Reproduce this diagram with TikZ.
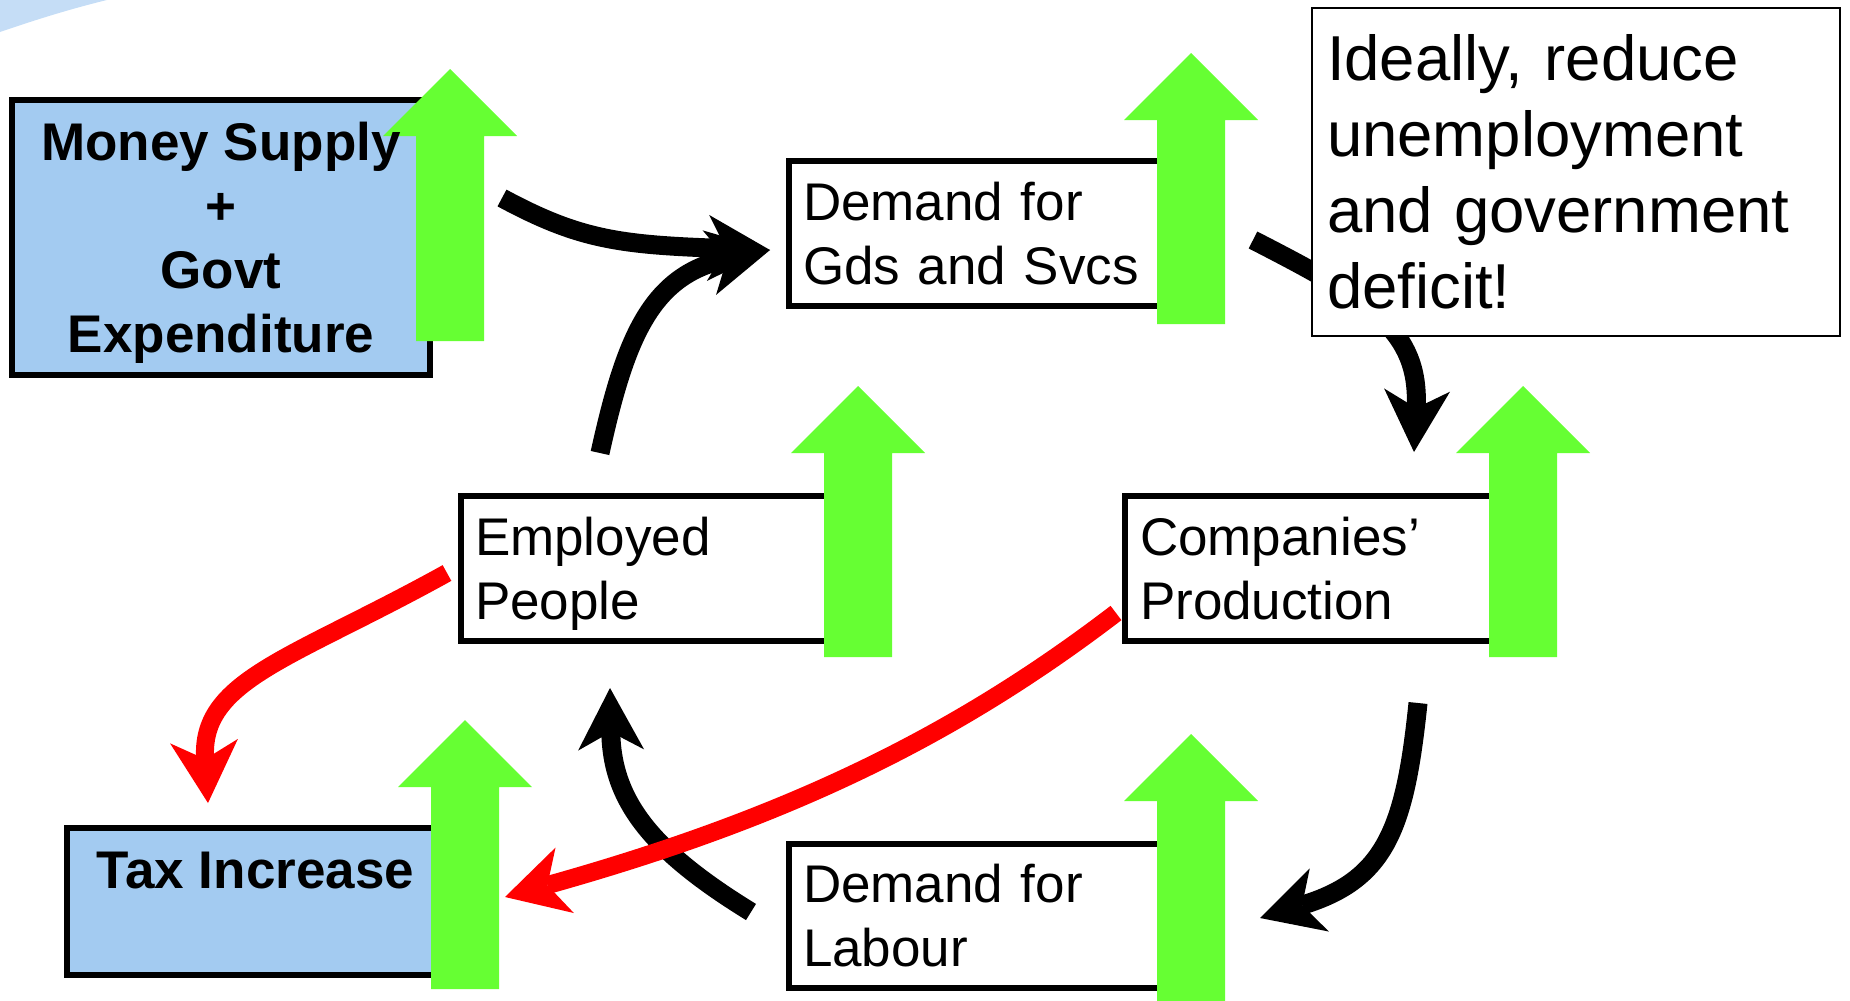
\documentclass[tikz,border=0pt]{standalone}
\usepackage{fontspec}
\setmainfont{Liberation Sans}
\usetikzlibrary{arrows.meta}
\definecolor{boxblue}{HTML}{A3CBF1}
\definecolor{arcblue}{HTML}{C5DDF6}
\definecolor{upgreen}{HTML}{66FF33}
\newcommand\greenup[3]{\fill[upgreen] (#1-34,#3) -- (#1-34,#2+67) -- (#1-67,#2+67) -- (#1,#2) -- (#1+67,#2+67) -- (#1+34,#2+67) -- (#1+34,#3) -- cycle;}
\begin{document}
\begin{tikzpicture}[x=1pt,y=-1pt,
  wbox/.style={draw, line width=6pt, fill=white, anchor=north west, outer sep=0pt, inner xsep=14pt, inner ysep=0pt, align=left, font=\fontsize{53}{64}\selectfont},
  bbox/.style={draw, line width=6pt, fill=boxblue, anchor=north west, outer sep=0pt, inner sep=0pt},
  boldtxt/.style={inner sep=0pt, align=center, font=\fontsize{53}{64}\selectfont\bfseries},
  blk/.style={line width=19pt, draw=black, -{Stealth[length=62pt, width=66pt, inset=18pt, line width=0pt]}},
  redarr/.style={line width=18pt, draw=red, -{Stealth[length=62pt, width=68pt, inset=18pt, line width=0pt]}}]
\useasboundingbox (0,0) rectangle (1850,1001);
% background arc
\fill[arcblue] (0,0) -- (107,0) .. controls (70,9) and (35,20) .. (0,32) -- cycle;
% boxes
\node[bbox, minimum width=418pt, minimum height=275pt] (ms) at (12,100) {};
\node[bbox, minimum width=393pt, minimum height=147pt] (tax) at (67,828) {};
\node[wbox, minimum width=391pt, minimum height=145pt, text width=363pt] (gds) at (789,161) {Demand for\\Gds and Svcs};
\node[wbox, minimum width=389pt, minimum height=145pt, text width=361pt] (emp) at (461,496) {\rule{0pt}{49pt}Employed\\People};
\node[wbox, minimum width=395pt, minimum height=145pt, text width=365pt, inner xsep=15pt] (comp) at (1125,496) {Companies’\\Production};
\node[wbox, minimum width=391pt, minimum height=144pt, text width=363pt] (lab) at (789,844) {Demand for\\Labour};
% green up arrows
\greenup{450}{69}{341}
\greenup{1191}{53}{324}
\greenup{858}{386}{657}
\greenup{1523}{386}{657}
\greenup{465}{720}{989}
\greenup{1191}{734}{1010}
% bold labels
\node[boldtxt] (mstxt) at (221,243) {Money Supply\\+\\Govt\\Expenditure};
\node[boldtxt, anchor=base] (taxtxt) at (255.5,888) {Tax Increase};
% connector end points
\coordinate (aS) at (502,198);
\coordinate (aE) at (770,250);
\coordinate (bS) at (600,453);
\coordinate (cS) at (1253,240);
\coordinate (cE) at (1414,452);
\coordinate (dS) at (1418,703);
\coordinate (dE) at (1260,918);
\coordinate (eS) at (751,912);
\coordinate (eE) at (610,688);
\coordinate (fS) at (447,573);
\coordinate (fE) at (208,803);
\coordinate (gS) at (1116,613);
\coordinate (gE) at (505,897);
% black arrows
\draw[blk] (aS) .. controls (580,240) and (620,245) .. (aE);
\draw[blk] (bS) .. controls (625,340) and (650,275) .. (aE);
\draw[blk] (cS) .. controls (1370,300) and (1420,330) .. (cE);
\draw[blk] (dS) .. controls (1405,830) and (1385,880) .. (dE);
\draw[blk] (eS) .. controls (650,850) and (612,800) .. (eE);
% note box
\node[draw, line width=2pt, fill=white, anchor=north west, outer sep=0pt, minimum width=528pt, minimum height=328pt, text width=498pt, inner xsep=15pt, inner ysep=0pt, align=left, font=\fontsize{63.5}{76}\selectfont] (ideal) at (1312,8) {Ideally, reduce\\unemployment\\and government\\deficit!};
% red arrows
\draw[redarr] (fS) .. controls (290,660) and (200,680) .. (fE);
\draw[redarr] (gS) .. controls (950,740) and (780,820) .. (gE);
\end{tikzpicture}
\end{document}
